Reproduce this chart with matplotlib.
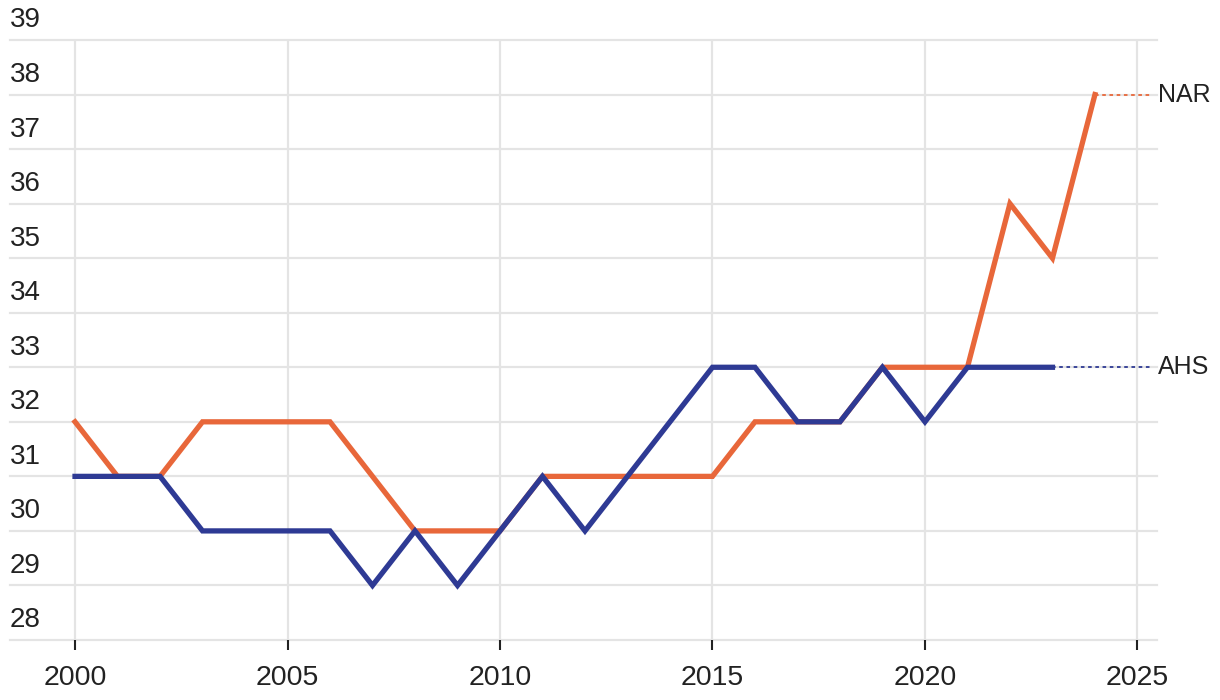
import matplotlib.pyplot as plt
from matplotlib.transforms import blended_transform_factory

plt.rcParams['font.family'] = ['Liberation Sans', 'DejaVu Sans']

years_nar = list(range(2000, 2025))
nar = [32, 31, 31, 32, 32, 32, 32, 31, 30, 30, 30, 31, 31, 31, 31, 31,
       32, 32, 32, 33, 33, 33, 36, 35, 38]
years_ahs = list(range(2000, 2024))
ahs = [31, 31, 31, 30, 30, 30, 30, 29, 30, 29, 30, 31, 30, 31, 32, 33,
       33, 32, 32, 33, 32, 33, 33, 33]
y_ticks = list(range(28, 40))
x_ticks = [2000, 2005, 2010, 2015, 2020, 2025]

orange = '#E8673A'
blue = '#2E3A94'
grid_c = '#E4E4E4'

fig = plt.figure(figsize=(12.2, 7), dpi=100)
ax = fig.add_axes([10/1220, 60/700, 1147/1220, 600/700])

ax.set_xlim(1998.47, 2025.46)
ax.set_ylim(28, 39)

for y in y_ticks:
    ax.axhline(y, color=grid_c, lw=1.6, zorder=0, clip_on=False)
for x in x_ticks:
    ax.axvline(x, color=grid_c, lw=1.6, zorder=0)

ax.plot(years_nar, nar, color=orange, lw=3.8, zorder=3, solid_joinstyle='miter')
ax.plot(years_ahs, ahs, color=blue, lw=3.8, zorder=4, solid_joinstyle='miter')

# dotted leaders to the end labels
end_x = 2025.34
ax.plot([years_nar[-1], end_x], [nar[-1], nar[-1]], color=orange, lw=1.3,
        ls=(0, (2, 2)), zorder=3, clip_on=False)
ax.plot([years_ahs[-1], end_x], [ahs[-1], ahs[-1]], color=blue, lw=1.3,
        ls=(0, (2, 2)), zorder=3, clip_on=False)
ax.text(2025.48, nar[-1], 'NAR', ha='left', va='center', fontsize=18,
        color='#222222', clip_on=False)
ax.text(2025.48, ahs[-1], 'AHS', ha='left', va='center', fontsize=18,
        color='#222222', clip_on=False)

# y labels sit above their gridlines on the left
trans = blended_transform_factory(ax.transAxes, ax.transData)
for y in y_ticks:
    ax.text(0, y + 0.12, str(y), transform=trans, ha='left', va='bottom',
            fontsize=20, color='#222222', clip_on=False)

ax.set_yticks([])
ax.set_xticks(x_ticks)
ax.set_xticklabels([str(x) for x in x_ticks], fontsize=20.5, color='#222222')
ax.tick_params(axis='x', length=7, width=1.5, color='#222222', pad=11)

for s in ax.spines.values():
    s.set_visible(False)

fig.savefig('out.png', dpi=100)
